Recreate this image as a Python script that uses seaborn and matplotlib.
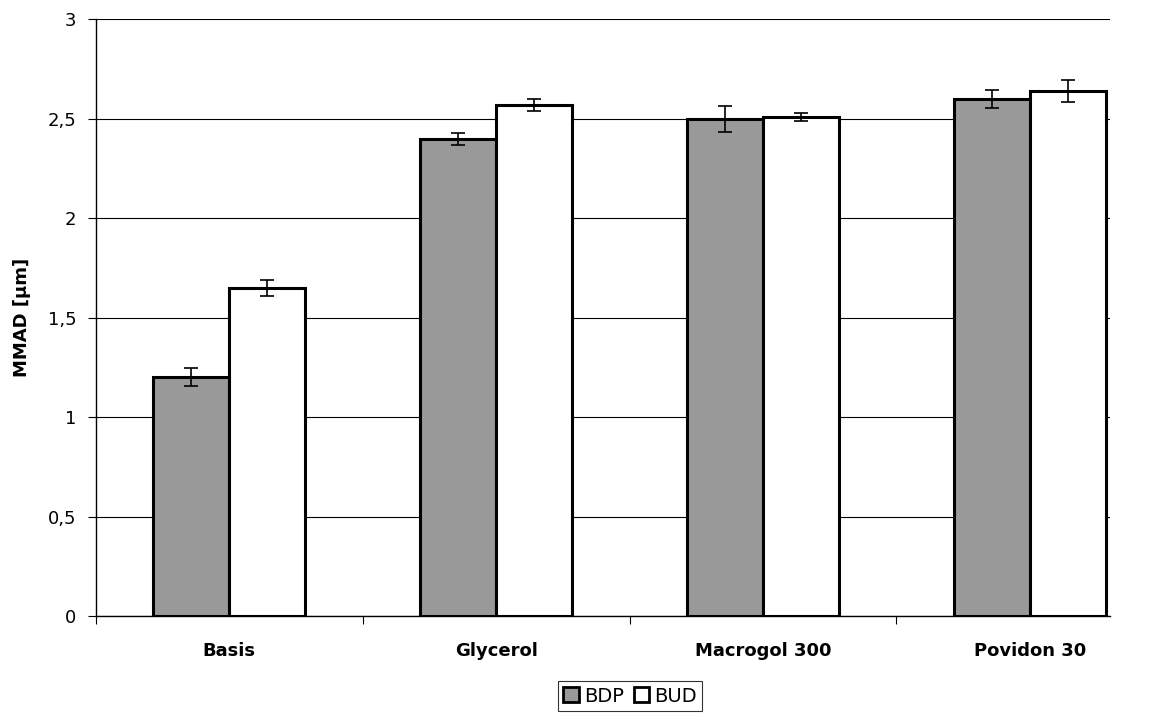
import pandas as pd
import numpy as np
import matplotlib
matplotlib.use("Agg")
import matplotlib.pyplot as plt
import seaborn as sns
from matplotlib.ticker import FuncFormatter
from matplotlib.patches import Patch

categories = ["Basis", "Glycerol", "Macrogol 300", "Povidon 30"]
bdp_values = [1.20, 2.40, 2.50, 2.60]
bdp_err = [0.045, 0.03, 0.065, 0.045]
bud_values = [1.65, 2.57, 2.51, 2.64]
bud_err = [0.04, 0.03, 0.02, 0.055]
series = ["BDP", "BUD"]
colors = {"BDP": "#999999", "BUD": "#ffffff"}

df = pd.DataFrame({
    "category": categories * 2,
    "series": ["BDP"] * 4 + ["BUD"] * 4,
    "value": bdp_values + bud_values,
    "err": bdp_err + bud_err,
})

sns.set_style("white")
plt.rcParams["font.family"] = ["DejaVu Sans"]
plt.rcParams["text.color"] = "black"
plt.rcParams["axes.labelcolor"] = "black"
plt.rcParams["xtick.color"] = "black"
plt.rcParams["ytick.color"] = "black"

fig = plt.figure(figsize=(11.56, 7.15), dpi=100)
ax = fig.add_axes([0.083, 0.1385, 0.877, 0.8345])

sns.barplot(data=df, x="category", y="value", hue="series", order=categories,
            hue_order=series, palette=colors, errorbar=None, width=0.57,
            edgecolor="black", linewidth=2.2, legend=False, ax=ax, zorder=3)

# error bars at bar centres
for cont, s in zip(ax.containers, series):
    sub = df[df["series"] == s].set_index("category").loc[categories]
    xs = [p.get_x() + p.get_width() / 2 for p in cont.patches]
    ax.errorbar(xs, sub["value"], yerr=sub["err"], fmt="none", ecolor="black",
                elinewidth=1.2, capsize=5, capthick=1.2, zorder=4)

ax.set_ylim(0, 3)
ax.set_xlim(-0.5, 3.3)
ax.set_yticks(np.arange(0, 3.01, 0.5))
ax.yaxis.set_major_formatter(FuncFormatter(lambda v, p: f"{v:g}".replace(".", ",")))
ax.yaxis.grid(True, color="black", linewidth=0.8)
ax.set_axisbelow(True)

ax.set_xticks(range(4))
ax.set_xticklabels(categories, fontsize=13, fontweight="bold")
ax.tick_params(axis="x", which="major", length=0, pad=19)
ax.set_xticks(np.arange(-0.5, 3, 1), minor=True)
ax.tick_params(axis="x", which="minor", bottom=True, length=6, width=0.8, color="black",
               direction="out")
ax.tick_params(axis="y", labelsize=13, length=6, width=0.8, color="black", direction="out",
               left=True, pad=8)

for side in ["top", "right"]:
    ax.spines[side].set_visible(False)
for side in ["left", "bottom"]:
    ax.spines[side].set_color("black")
    ax.spines[side].set_linewidth(1)

ax.set_xlabel("")
ax.set_ylabel("MMAD [µm]", fontsize=13, fontweight="bold", labelpad=12)

handles = [Patch(facecolor=colors[s], edgecolor="black", linewidth=2, label=s) for s in series]
leg = fig.legend(handles=handles, loc="upper center", bbox_to_anchor=(0.545, 0.048), ncol=2,
                 frameon=True, fancybox=False, fontsize=14, handlelength=0.8, handleheight=0.8,
                 handletextpad=0.25, columnspacing=0.5, borderpad=0.3, borderaxespad=0,
                 edgecolor="black")
leg.get_frame().set_linewidth(0.8)

fig.savefig("out.png", dpi=100)
